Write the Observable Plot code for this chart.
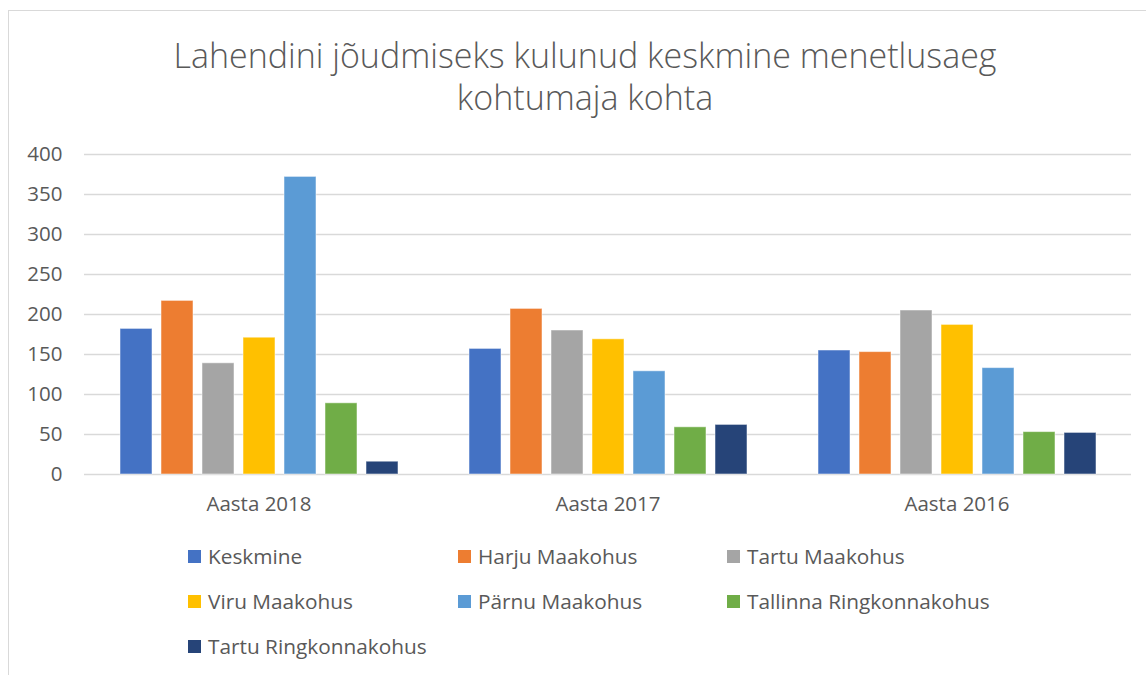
<!DOCTYPE html>
<html>
<head>
<meta charset="utf-8">
<script src="https://cdn.jsdelivr.net/npm/d3@7"></script>
<script src="https://cdn.jsdelivr.net/npm/@observablehq/plot@0.6"></script>
<style>
  html, body { margin: 0; padding: 0; background: #fff; }
  body { width: 1146px; height: 675px; position: relative; overflow: hidden; font-family: "Open Sans", sans-serif; color: #595959; }
  #frame { position: absolute; left: 8px; top: 10px; width: 1150px; height: 680px; border: 1px solid #d9d9d9; box-sizing: border-box; }
  #title { position: absolute; left: 0; width: 1170px; top: 34px; text-align: center; font-size: 34px; font-weight: 300; line-height: 42px; color: #595959; }
  #chart { position: absolute; left: 0; top: 134px; }
  #legend { position: absolute; left: 188px; top: 545px; display: grid; grid-template-columns: 270px 269px 300px; row-gap: 23px; font-size: 20.8px; }
  .item { display: flex; align-items: center; height: 22px; white-space: nowrap; }
  .sw { width: 13px; height: 13px; margin-right: 7px; flex: none; }
</style>
</head>
<body>
<div id="frame"></div>
<div id="title">Lahendini jõudmiseks kulunud keskmine menetlusaeg<br>kohtumaja kohta</div>
<div id="chart"></div>
<div id="legend"></div>
<script>
const years = ["Aasta 2018", "Aasta 2017", "Aasta 2016"];
const series = ["Keskmine", "Harju Maakohus", "Tartu Maakohus", "Viru Maakohus", "Pärnu Maakohus", "Tallinna Ringkonnakohus", "Tartu Ringkonnakohus"];
const colors = ["#4472C4", "#ED7D31", "#A5A5A5", "#FFC000", "#5B9BD5", "#70AD47", "#264478"];
const keskmine = [182, 157, 155];
const harju = [217, 207, 153];
const tartu = [139, 180, 205];
const viru = [171, 169, 187];
const parnu = [372, 129, 133];
const tallinnRing = [89, 59, 53];
const tartuRing = [16, 62, 52];
const yTicks = [0, 50, 100, 150, 200, 250, 300, 350, 400];

const seriesValues = [keskmine, harju, tartu, viru, parnu, tallinnRing, tartuRing];
const data = [];
years.forEach((yr, i) => {
  series.forEach((s, j) => data.push({year: yr, series: s, value: seriesValues[j][i]}));
});

const plot = Plot.plot({
  width: 1146,
  height: 395,
  marginLeft: 84,
  marginRight: 15,
  marginTop: 20,
  marginBottom: 55,
  style: {fontFamily: "'Open Sans', sans-serif", fontSize: "20.5px", color: "#595959", background: "transparent", overflow: "visible"},
  fx: {domain: years, padding: 0, label: null},
  x: {domain: series, paddingInner: 0.22, paddingOuter: 0.86, axis: null},
  y: {domain: [0, 400], ticks: yTicks, label: null},
  color: {domain: series, range: colors},
  marks: [
    Plot.ruleY(yTicks, {stroke: "#d9d9d9", strokeWidth: 1.3, facetAnchor: null}),
    Plot.barY(data, {fx: "year", x: "series", y: "value", fill: "series", stroke: "white", strokeOpacity: 0.5, strokeWidth: 1}),
    Plot.axisY(yTicks, {tickSize: 0, tickPadding: 22, label: null, fill: "#595959"}),
    Plot.axisFx({anchor: "bottom", tickSize: 0, tickPadding: 22, label: null, fill: "#595959"})
  ]
});
document.getElementById("chart").appendChild(plot);

const legend = document.getElementById("legend");
series.forEach((s, j) => {
  const it = document.createElement("div");
  it.className = "item";
  const sw = document.createElement("span");
  sw.className = "sw";
  sw.style.background = colors[j];
  const tx = document.createElement("span");
  tx.textContent = s;
  it.appendChild(sw);
  it.appendChild(tx);
  legend.appendChild(it);
});
</script>
</body>
</html>
